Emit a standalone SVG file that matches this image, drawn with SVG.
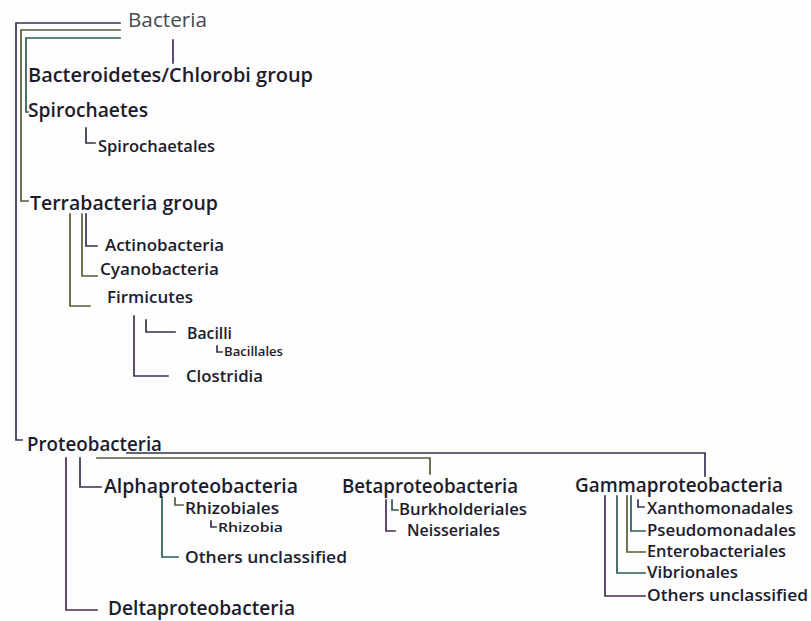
<svg xmlns="http://www.w3.org/2000/svg" width="811" height="621" viewBox="0 0 811 621">
<style>
.t{font-family:"Open Sans","DejaVu Sans",sans-serif;font-weight:600;fill:#1c1c2c}
.b{font-size:20px}
.m{font-size:16px}
.s{font-size:12.5px}
.c{fill:none;stroke-width:1.7;stroke-linecap:square}
.k{stroke:#33334f}
.y{stroke:#5a5a36}
.g{stroke:#2d5a54}
.p{stroke:#452c58}
</style>
<rect width="811" height="621" fill="#fdfdfd"/>
<g id="connectors">
<path class="c k" d="M120 23H16V440H22"/>
<path class="c y" d="M120 30H21V201H28"/>
<path class="c g" d="M120 38H26V112H28"/>
<path class="c p" d="M173 40V63"/>
<path class="c k" d="M86 128V143H95"/>
<path class="c y" d="M70 214V306H90"/>
<path class="c y" d="M82 214V276H97"/>
<path class="c k" d="M86 214V246H97"/>
<path class="c p" d="M134 316V376H168"/>
<path class="c k" d="M146 320V332H175"/>
<path class="c k" d="M217 346V352H222"/>
<path class="c k" d="M127 453H705V476"/>
<path class="c y" d="M97 458H430V474"/>
<path class="c p" d="M66 458V610H97"/>
<path class="c k" d="M80 458V487H101"/>
<path class="c g" d="M162 497V557H178"/>
<path class="c y" d="M175 498V505H183"/>
<path class="c k" d="M211 521V527H216"/>
<path class="c p" d="M386 500V531H395"/>
<path class="c g" d="M392 500V510H398"/>
<path class="c p" d="M605 496V596H645"/>
<path class="c g" d="M617 496V573H645"/>
<path class="c y" d="M627 496V552H645"/>
<path class="c g" d="M631 496V531H645"/>
<path class="c p" d="M638 500V507H644"/>
</g>
<g id="bacteria"><text x="128" y="27" textLength="79" lengthAdjust="spacingAndGlyphs" style="font-family:'Open Sans','DejaVu Sans',sans-serif;font-size:20px;fill:#4a4a4a">Bacteria</text></g>
<g id="bacteroidetes"><text class="t b" x="28" y="82" textLength="285" lengthAdjust="spacingAndGlyphs">Bacteroidetes/Chlorobi group</text></g>
<g id="spirochaetes"><text class="t b" x="28" y="117" textLength="120" lengthAdjust="spacingAndGlyphs">Spirochaetes</text></g>
<g id="spirochaetales"><text class="t m" x="98" y="152" textLength="117" lengthAdjust="spacingAndGlyphs">Spirochaetales</text></g>
<g id="terrabacteria"><text class="t b" x="30" y="210" textLength="188" lengthAdjust="spacingAndGlyphs">Terrabacteria group</text></g>
<g id="actinobacteria"><text class="t m" x="105" y="251" textLength="119" lengthAdjust="spacingAndGlyphs">Actinobacteria</text></g>
<g id="cyanobacteria"><text class="t m" x="100" y="275" textLength="119" lengthAdjust="spacingAndGlyphs">Cyanobacteria</text></g>
<g id="firmicutes"><text class="t m" x="107" y="303" textLength="86" lengthAdjust="spacingAndGlyphs">Firmicutes</text></g>
<g id="bacilli"><text class="t m" x="187" y="339" textLength="45" lengthAdjust="spacingAndGlyphs">Bacilli</text></g>
<g id="bacillales"><text class="t s" x="224" y="356" textLength="59" lengthAdjust="spacingAndGlyphs">Bacillales</text></g>
<g id="clostridia"><text class="t m" x="186" y="382" textLength="77" lengthAdjust="spacingAndGlyphs">Clostridia</text></g>
<g id="proteobacteria"><text class="t b" x="27" y="451" textLength="135" lengthAdjust="spacingAndGlyphs">Proteobacteria</text></g>
<g id="alpha"><text class="t b" x="104" y="493" textLength="194" lengthAdjust="spacingAndGlyphs">Alphaproteobacteria</text></g>
<g id="rhizobiales"><text class="t m" x="185" y="514" textLength="94" lengthAdjust="spacingAndGlyphs">Rhizobiales</text></g>
<g id="rhizobia"><text class="t s" x="218" y="532" textLength="65" lengthAdjust="spacingAndGlyphs">Rhizobia</text></g>
<g id="alpha-others"><text class="t m" x="185" y="563" textLength="162" lengthAdjust="spacingAndGlyphs">Others unclassified</text></g>
<g id="delta"><text class="t b" x="108" y="615" textLength="187" lengthAdjust="spacingAndGlyphs">Deltaproteobacteria</text></g>
<g id="beta"><text class="t b" x="342" y="493" textLength="176" lengthAdjust="spacingAndGlyphs">Betaproteobacteria</text></g>
<g id="burkholderiales"><text class="t m" x="399" y="515" textLength="128" lengthAdjust="spacingAndGlyphs">Burkholderiales</text></g>
<g id="neisseriales"><text class="t m" x="407" y="536" textLength="93" lengthAdjust="spacingAndGlyphs">Neisseriales</text></g>
<g id="gamma"><text class="t b" x="575" y="492" textLength="208" lengthAdjust="spacingAndGlyphs">Gammaproteobacteria</text></g>
<g id="xanthomonadales"><text class="t m" x="647" y="514" textLength="146" lengthAdjust="spacingAndGlyphs">Xanthomonadales</text></g>
<g id="pseudomonadales"><text class="t m" x="647" y="536" textLength="149" lengthAdjust="spacingAndGlyphs">Pseudomonadales</text></g>
<g id="enterobacteriales"><text class="t m" x="647" y="557" textLength="139" lengthAdjust="spacingAndGlyphs">Enterobacteriales</text></g>
<g id="vibrionales"><text class="t m" x="647" y="578" textLength="91" lengthAdjust="spacingAndGlyphs">Vibrionales</text></g>
<g id="gamma-others"><text class="t m" x="647" y="601" textLength="161" lengthAdjust="spacingAndGlyphs">Others unclassified</text></g>
</svg>
